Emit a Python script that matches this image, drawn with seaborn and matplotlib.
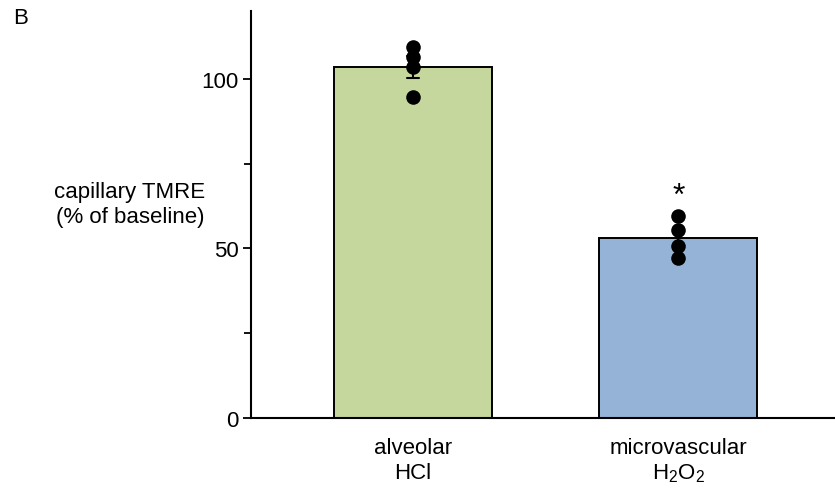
import matplotlib
matplotlib.use("Agg")
import matplotlib.pyplot as plt
import seaborn as sns
import pandas as pd
from matplotlib.ticker import MultipleLocator

# Data
groups = ["alveolar\nHCl", "microvascular\nH$_2$O$_2$"]
hcl_values = [109.5, 106.5, 103.5, 94.5]
h2o2_values = [59.5, 55.3, 50.7, 47.3]
bar_colors = ["#c5d79d", "#95b3d7"]
yticks_major = [0, 50, 100]
ylabel_text = "capillary TMRE\n(% of baseline)"
panel_label = "B"
sig_marker = "*"

df = pd.DataFrame({
    "group": [groups[0]] * len(hcl_values) + [groups[1]] * len(h2o2_values),
    "value": hcl_values + h2o2_values,
})

sns.set_style("white")
plt.rcParams["font.family"] = ["Liberation Sans", "DejaVu Sans"]
plt.rcParams["mathtext.fontset"] = "custom"
plt.rcParams["mathtext.rm"] = "Liberation Sans"
plt.rcParams["mathtext.it"] = "Liberation Sans:italic"
plt.rcParams["mathtext.default"] = "regular"
plt.rcParams["text.color"] = "black"
plt.rcParams["xtick.color"] = "black"
plt.rcParams["ytick.color"] = "black"
plt.rcParams["axes.labelcolor"] = "black"

fig = plt.figure(figsize=(8.35, 4.89), dpi=100)
ax = fig.add_axes([251 / 835, 70 / 489, 1 - 251 / 835, (419 - 12) / 489])

sns.barplot(data=df, x="group", y="value", order=groups, hue="group",
            palette=bar_colors, legend=False, width=0.595, saturation=1,
            errorbar="se", capsize=0.042, err_kws={"color": "black", "linewidth": 1.5},
            edgecolor="black", linewidth=1.4, ax=ax)
sns.stripplot(data=df, x="group", y="value", order=groups, jitter=False,
              color="black", size=10.5, ax=ax, zorder=5)

ax.set_xlim(-0.61, 1.59)
ax.set_ylim(0, 120)
ax.set_yticks(yticks_major)
ax.yaxis.set_minor_locator(MultipleLocator(25))
ax.tick_params(axis="y", which="major", length=6, width=1.3, labelsize=16, pad=3, left=True)
ax.tick_params(axis="y", which="minor", length=5, width=1.3, left=True)
ax.tick_params(axis="x", length=0, labelsize=16, pad=14)
for lab in ax.get_xticklabels():
    lab.set_linespacing(1.2)

sns.despine(ax=ax)
for s in ["left", "bottom"]:
    ax.spines[s].set_linewidth(1.5)
    ax.spines[s].set_color("black")

ax.set_xlabel("")
ax.set_ylabel("")
fig.text(130 / 835, 1 - 205 / 489, ylabel_text, ha="center", va="center",
         fontsize=16, linespacing=1.25)
fig.text(21 / 835, 1 - 19 / 489, panel_label, ha="center", va="center", fontsize=16)
ax.text(1, 65.5, sig_marker, ha="center", va="center", fontsize=23)

fig.savefig("out.png", dpi=100)
